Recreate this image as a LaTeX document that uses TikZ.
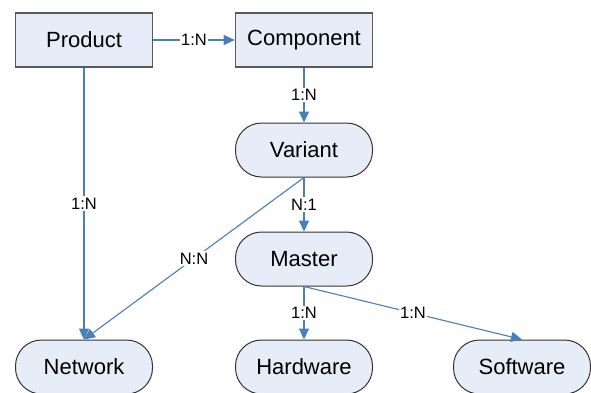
\documentclass[tikz,border=0pt]{standalone}
\usepackage{fontspec}
\setmainfont{Liberation Sans}
\usetikzlibrary{arrows.meta}
\definecolor{boxfill}{RGB}{230,237,248}
\definecolor{linkblue}{RGB}{74,126,187}

\begin{document}
\begin{tikzpicture}[x=1pt,y=-1pt,
  entity/.style={draw=black!65,line width=1.6pt,fill=boxfill,minimum width=137pt,minimum height=54pt,font=\fontsize{22}{25}\selectfont},
  object/.style={draw=black!80,line width=1pt,fill=boxfill,rounded corners=26pt,minimum width=137pt,minimum height=54pt,font=\fontsize{22}{25}\selectfont},
  rel/.style={draw=linkblue,line width=1.1pt,-{Triangle[length=11pt,width=10pt]}},
  card/.style={fill=white,inner sep=1.5pt,font=\fontsize{16.5}{18}\selectfont}]
\fill[white] (0,0) rectangle (591,392);
\useasboundingbox (0,0) rectangle (591,392);
% entities and objects
\node[entity] (product) at (84,40) {Product};
\node[entity] (component) at (304,40) {Component};
\node[object] (variant) at (304,150) {Variant};
\node[object] (master) at (304,259) {Master};
\node[object] (network) at (84,367) {Network};
\node[object] (hardware) at (304,367) {Hardware};
\node[object] (software) at (522,367) {Software};
% relations
\draw[rel] (product) -- node[card] {1:N} (component);
\draw[rel] (component) -- node[card] {1:N} (variant);
\draw[rel] (product) -- node[card] {1:N} (network);
\draw[rel] (variant.south) -- node[card] {N:N} (network.north);
\draw[rel] (variant) -- node[card] {N:1} (master);
\draw[rel] (master) -- node[card] {1:N} (hardware);
\draw[rel] (master.south) -- node[card] {1:N} (software.north);
\end{tikzpicture}
\end{document}
